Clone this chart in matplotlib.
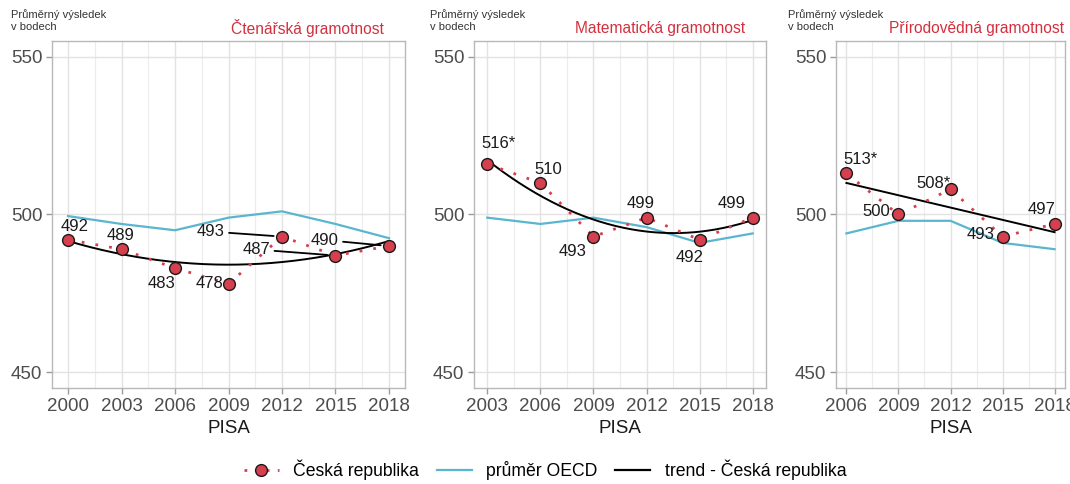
import numpy as np
import matplotlib.pyplot as plt
from matplotlib.lines import Line2D

plt.rcParams['font.family'] = ['Liberation Sans', 'DejaVu Sans']

# data
titles = ['Čtenářská gramotnost', 'Matematická gramotnost', 'Přírodovědná gramotnost']

years_read = [2000, 2003, 2006, 2009, 2012, 2015, 2018]
cz_read = [492, 489, 483, 478, 493, 487, 490]
oecd_read = [499.5, 497, 495, 499, 501, 497, 492.5]
stars_read = ['', '', '', '', '', '', '']

years_math = [2003, 2006, 2009, 2012, 2015, 2018]
cz_math = [516, 510, 493, 499, 492, 499]
oecd_math = [499, 497, 499, 496, 491, 494]
stars_math = ['*', '', '', '', '', '']

years_sci = [2006, 2009, 2012, 2015, 2018]
cz_sci = [513, 500, 508, 493, 497]
oecd_sci = [494, 498, 498, 491, 489]
stars_sci = ['*', '', '*', '', '']

trend_degree = [2, 2, 1]

# label placement (pixel offsets from the point) and leader flags
label_offsets = [
    [(7, 13), (-1, 14), (-14, -15), (-19, 0), (-71, 5), (-79, 6), (-64, 6)],
    [(11, 21), (8, 13), (-21, -15), (-6, 14), (-10, -18), (-21, 14)],
    [(14, 14), (-22, 3), (-17, 6), (-22, 2), (-13, 14)],
]
leaders = [
    [False, False, False, False, True, True, True],
    [False] * 6,
    [False] * 5,
]

W, H = 1070, 484
red = '#d6404e'
cyan = '#5ab6cf'
title_red = '#d3303f'

fig = plt.figure(figsize=(W / 100, H / 100), dpi=100)

# axes boxes in pixels: left, right, top, bottom
boxes = [(52, 405, 41, 388), (474, 766, 41, 388), (836, 1065, 41, 388)]
title_right = [384, 745, 1064]
ylab_left = [11, 430, 788]

panels = [
    (years_read, cz_read, oecd_read, stars_read),
    (years_math, cz_math, oecd_math, stars_math),
    (years_sci, cz_sci, oecd_sci, stars_sci),
]

for i, (years, cz, oecd, stars) in enumerate(panels):
    l, r, t, b = boxes[i]
    ax = fig.add_axes([l / W, 1 - b / H, (r - l) / W, (b - t) / H])
    years = np.array(years)
    span = years[-1] - years[0]
    ax.set_xlim(years[0] - 0.05 * span, years[-1] + 0.05 * span)
    ax.set_ylim(445, 555)
    ax.set_xticks(years)
    ax.set_xticks(years[:-1] + 1.5, minor=True)
    ax.set_yticks([450, 500, 550])
    ax.grid(True, which='major', color='#e2e2e2', lw=1.0, zorder=0)
    ax.grid(True, which='minor', axis='x', color='#ececec', lw=0.8, zorder=0)
    ax.set_axisbelow(True)
    for s in ax.spines.values():
        s.set_color('#b8b8b8')
        s.set_linewidth(1.0)
    ax.tick_params(which='major', labelsize=13.5, labelcolor='#4d4d4d',
                   color='#9a9a9a', length=4, width=1, pad=3)
    ax.tick_params(which='minor', length=0)
    ax.set_xlabel('PISA', fontsize=13.5, color='#1a1a1a', labelpad=4)

    ax.plot(years, oecd, color=cyan, lw=1.6, zorder=2)

    coef = np.polyfit(years - years[0], cz, trend_degree[i])
    xs = np.linspace(years[0], years[-1], 200)
    ax.plot(xs, np.polyval(coef, xs - years[0]), color='black', lw=1.4, zorder=3)

    ax.plot(years, cz, color=red, lw=2, linestyle=(0, (1, 4)), zorder=4)
    ax.plot(years, cz, 'o', color=red, markersize=8.5, markeredgecolor='#1a1a1a',
            markeredgewidth=1.0, zorder=5)

    for j, (yr, v) in enumerate(zip(years, cz)):
        dx, dy = label_offsets[i][j]
        kw = {}
        if leaders[i][j]:
            kw['arrowprops'] = dict(arrowstyle='-', color='black', lw=1.3,
                                    shrinkA=1, shrinkB=6)
        ax.annotate(f'{v}{stars[j]}', xy=(yr, v), xytext=(dx, dy),
                    textcoords='offset pixels', ha='center', va='center',
                    fontsize=12, color='#1a1a1a', zorder=6, **kw)

    fig.text(title_right[i] / W, 1 - 28 / H, titles[i], ha='right', va='center',
             color=title_red, fontsize=11.2)
    fig.text(ylab_left[i] / W, 1 - 9 / H, 'Průměrný výsledek\nv bodech', ha='left',
             va='top', fontsize=8, color='#333333', linespacing=1.3)

handles = [
    Line2D([], [], color=red, lw=2, linestyle=(0, (1, 3)), marker='o', markersize=8.5,
           markerfacecolor=red, markeredgecolor='#1a1a1a', markeredgewidth=1.0),
    Line2D([], [], color=cyan, lw=1.6),
    Line2D([], [], color='black', lw=1.6),
]
labels = ['Česká republika', 'průměr OECD', 'trend - Česká republika']
fig.legend(handles, labels, loc='center', bbox_to_anchor=(545 / W, 1 - 470 / H),
           ncol=3, frameon=False, fontsize=12.7, handlelength=2.0,
           handletextpad=0.8, columnspacing=1.0)

fig.savefig('out.png', dpi=100)
